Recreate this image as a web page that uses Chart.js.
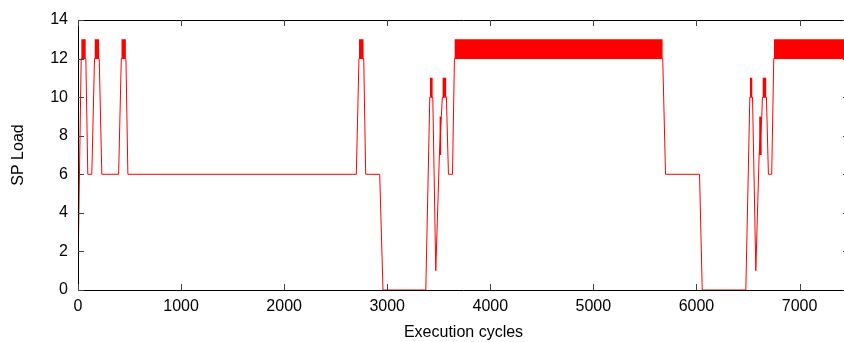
<!DOCTYPE html>
<html>
<head>
<meta charset="utf-8">
<script src="https://cdn.jsdelivr.net/npm/chart.js@4"></script>
<style>
  html, body { margin: 0; padding: 0; background: #fff; overflow: hidden; }
  #wrap { width: 849px; height: 342px; }
</style>
</head>
<body>
<div id="wrap"><canvas id="myChart"></canvas></div>
<script>
// SP load trace (execution cycle, load)
const loadX = [0, 31, 76, 95, 134, 160, 206, 231, 394, 420, 465, 484,
  2700, 2726, 2772, 2791, 2927, 2959, 3374, 3413, 3442, 3471, 3506, 3525,
  3535, 3574, 3594, 3633, 3652, 5673, 5700, 6030, 6056, 6479, 6518, 6544,
  6576, 6608, 6634, 6640, 6679, 6698, 6730, 6750, 7480];
const loadY = [1, 12, 12, 6, 6, 12, 12, 6, 6, 12, 12, 6,
  6, 12, 12, 6, 6, 0, 0, 10, 10, 1, 7, 9,
  10, 10, 6, 6, 12, 12, 6, 6, 0, 0, 10, 10,
  1, 7, 9, 10, 10, 6, 6, 12, 12];

// dense oscillation regions, drawn as solid bands
const bandStart = [31, 160, 420, 2726, 3413, 3506, 3535, 3652, 6518, 6608, 6640, 6750];
const bandEnd   = [76, 206, 465, 2772, 3442, 3525, 3574, 5673, 6544, 6634, 6679, 7480];
const bandLow   = [12, 12, 12, 12, 10, 7, 10, 12, 10, 7, 10, 12];
const bandHigh  = [13, 13, 13, 13, 11, 9, 11, 13, 11, 9, 11, 13];

const xTicks = [0, 1000, 2000, 3000, 4000, 5000, 6000, 7000];
const yTicks = [0, 2, 4, 6, 8, 10, 12, 14];

const red = 'rgb(255,0,0)';

const datasets = [{
    data: loadX.map((x, i) => ({ x: x, y: loadY[i] })),
    borderColor: red,
    borderWidth: 1,
    pointRadius: 0,
    fill: false
}];

bandStart.forEach((s, i) => {
    datasets.push({
        data: [{ x: s, y: bandHigh[i] }, { x: bandEnd[i], y: bandHigh[i] }],
        borderWidth: 0,
        borderColor: red,
        backgroundColor: red,
        pointRadius: 0,
        fill: { value: bandLow[i] }
    });
});

// gnuplot style frame with inward ticks
const framePlugin = {
    id: 'frame',
    afterDraw(chart) {
        const { ctx, chartArea: a, scales } = chart;
        const len = 6;
        ctx.save();
        ctx.lineWidth = 1;
        ctx.strokeStyle = '#000';
        ctx.beginPath();
        ctx.moveTo(a.left + 0.5, a.top + 0.5);
        ctx.lineTo(a.right, a.top + 0.5);
        ctx.moveTo(a.left + 0.5, a.top);
        ctx.lineTo(a.left + 0.5, a.bottom + 0.5);
        ctx.lineTo(a.right, a.bottom + 0.5);
        ctx.lineTo(a.right, a.top);
        ctx.stroke();

        ctx.strokeStyle = '#444';
        ctx.beginPath();
        xTicks.forEach(v => {
            const px = Math.round(scales.x.getPixelForValue(v)) + 0.5;
            ctx.moveTo(px, a.bottom);
            ctx.lineTo(px, a.bottom - len);
            ctx.moveTo(px, a.top);
            ctx.lineTo(px, a.top + len);
        });
        yTicks.forEach(v => {
            const py = Math.round(scales.y.getPixelForValue(v)) + 0.5;
            ctx.moveTo(a.left, py);
            ctx.lineTo(a.left + len, py);
            ctx.moveTo(a.right, py);
            ctx.lineTo(a.right - len, py);
        });
        ctx.stroke();
        ctx.restore();
    }
};

const font = { family: 'Liberation Sans, Arial, sans-serif', size: 16 };

new Chart(document.getElementById('myChart'), {
    type: 'line',
    data: { datasets: datasets },
    plugins: [framePlugin],
    options: {
        responsive: true,
        maintainAspectRatio: false,
        animation: false,
        layout: { padding: { top: 20, right: 0, left: 0, bottom: 0 } },
        plugins: {
            legend: { display: false },
            tooltip: { enabled: false }
        },
        elements: { line: { tension: 0 } },
        scales: {
            x: {
                type: 'linear',
                min: 0,
                max: 7480,
                afterFit: s => { s.height = 52; },
                afterBuildTicks: s => { s.ticks = xTicks.map(v => ({ value: v })); },
                grid: { display: false, drawTicks: false },
                border: { display: false },
                ticks: { color: '#000', font: font, padding: 7, maxRotation: 0, callback: v => String(v) },
                title: { display: true, text: 'Execution cycles', color: '#000', font: font, padding: { top: 0, bottom: 0 } }
            },
            y: {
                min: 0,
                max: 14,
                afterFit: s => { s.width = 78; },
                afterBuildTicks: s => { s.ticks = yTicks.map(v => ({ value: v })); },
                grid: { display: false, drawTicks: false },
                border: { display: false },
                ticks: { color: '#000', font: font, padding: 10, callback: v => String(v) },
                title: { display: true, text: 'SP Load', color: '#000', font: font, padding: { top: 9, bottom: 0 } }
            }
        }
    }
});
</script>
</body>
</html>
